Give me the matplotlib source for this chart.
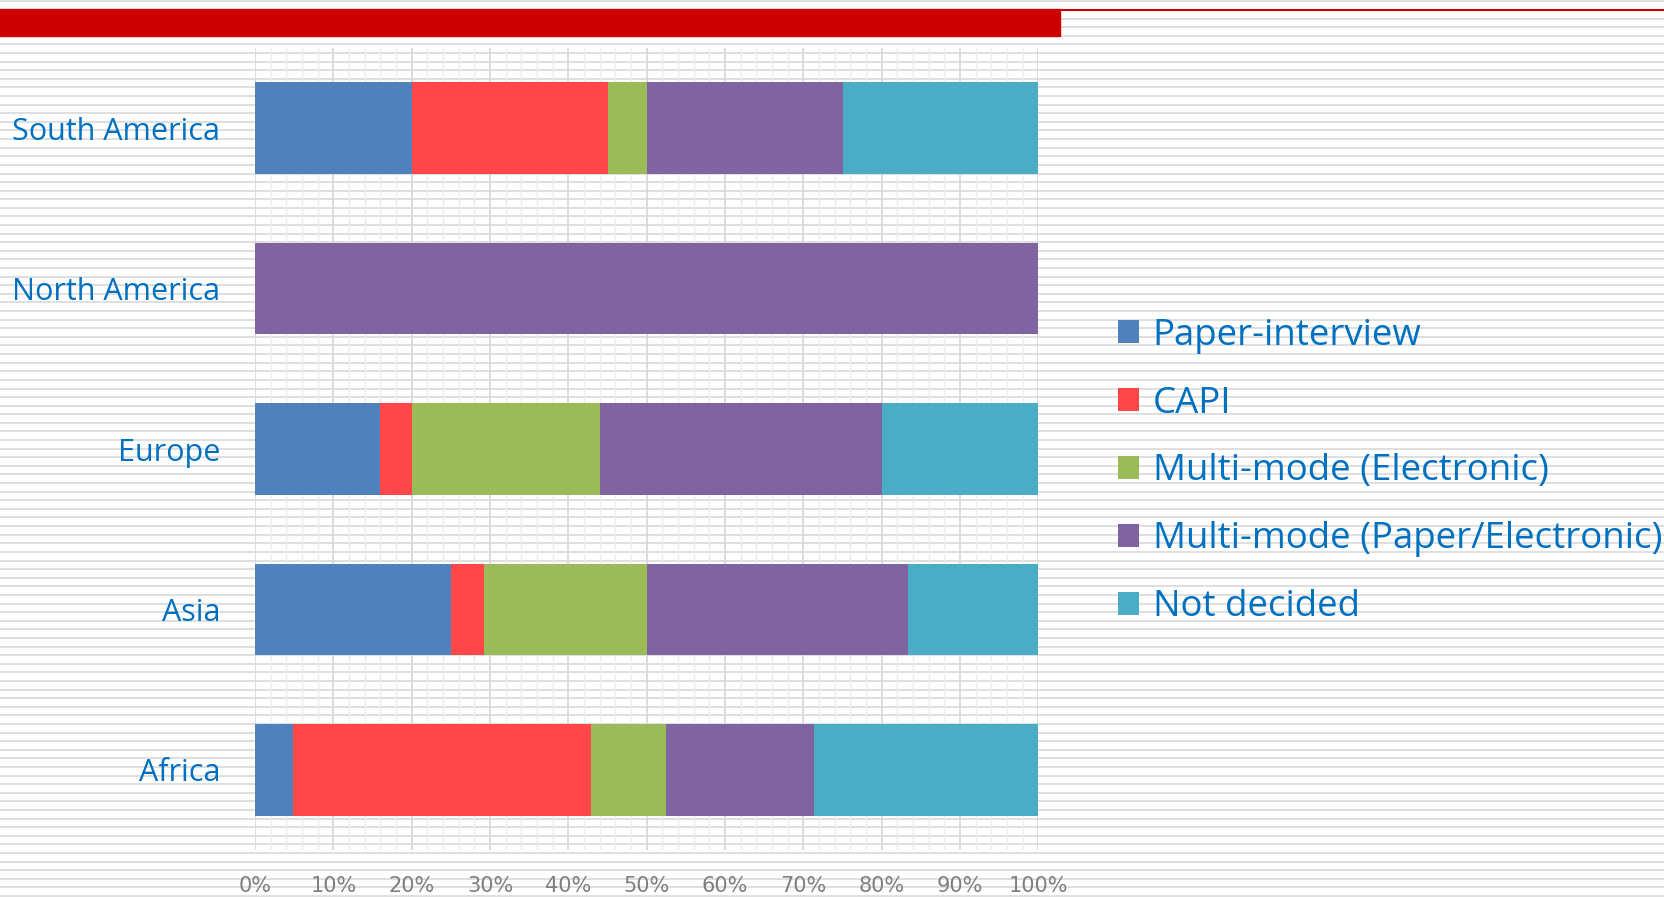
import matplotlib.pyplot as plt
from matplotlib.patches import Patch
from matplotlib.lines import Line2D
from matplotlib.ticker import MultipleLocator, PercentFormatter
import numpy as np

regions = ['Africa', 'Asia', 'Europe', 'North America', 'South America']
modes = ['Paper-interview', 'CAPI', 'Multi-mode (Electronic)',
         'Multi-mode (Paper/Electronic)', 'Not decided']
colors = ['#4F81BD', '#FF474A', '#9BBB59', '#8064A2', '#4BACC6']

# percent shares per region (bottom to top)
paper = [4.8, 25.0, 16.0, 0.0, 20.0]
capi = [38.1, 4.2, 4.0, 0.0, 25.0]
multi_e = [9.5, 20.8, 24.0, 0.0, 5.0]
multi_pe = [19.0, 33.3, 36.0, 100.0, 25.0]
not_decided = [28.6, 16.7, 20.0, 0.0, 25.0]
series = [paper, capi, multi_e, multi_pe, not_decided]

W, H = 1665, 897
fig = plt.figure(figsize=(W / 100, H / 100), dpi=100)
fig.patch.set_facecolor('white')

# striped slide background
for yy in np.arange(1.5, H, 8.6):
    fig.add_artist(Line2D([0, 1], [1 - yy / H, 1 - yy / H], color='#DCDCDC',
                          lw=1.3, zorder=0))

# red header bar and thin rule
fig.add_artist(plt.Rectangle((0, 1 - 36 / H), 1060 / W, 26.5 / H,
                             color='#CC0000', zorder=1))
fig.add_artist(Line2D([1060 / W, 1], [1 - 10 / H, 1 - 10 / H],
                      color='#CC0000', lw=1.5, zorder=1))

ax = fig.add_axes([255 / W, 1 - 850 / H, (1038.5 - 255) / W, 802 / H])
ax.patch.set_alpha(0)

y = np.arange(len(regions))
left = np.zeros(len(regions))
for vals, col, name in zip(series, colors, modes):
    ax.barh(y, vals, left=left, height=0.57, color=col, label=name, zorder=3)
    left += np.array(vals)

ax.set_xlim(0, 100)
ax.set_ylim(-0.5, len(regions) - 0.5)
ax.xaxis.set_major_locator(MultipleLocator(10))
ax.xaxis.set_minor_locator(MultipleLocator(2))
ax.xaxis.set_major_formatter(PercentFormatter(decimals=0))
ax.grid(axis='x', which='major', color='#D9D9D9', lw=1.3, zorder=1)
ax.grid(axis='x', which='minor', color='#EDEDED', lw=1.0, zorder=1)
for s in ax.spines.values():
    s.set_visible(False)

ax.set_yticks(y)
ax.set_yticklabels(regions, color='#0070C0', fontsize=22, family='Open Sans')
ax.tick_params(axis='y', length=0, pad=25)
ax.tick_params(axis='x', which='both', length=0, pad=19, colors='#7F7F7F',
               labelsize=15)
for t in ax.get_xticklabels():
    t.set_family(['Liberation Sans Narrow', 'DejaVu Sans'])

handles = [Patch(facecolor=c) for c in colors]
leg = fig.legend(handles, modes, loc='upper left',
                 bbox_to_anchor=(1103 / W, 1 - 303 / H), frameon=False,
                 prop={'family': 'Open Sans', 'size': 26.4},
                 handlelength=0.58, handleheight=0.58, handletextpad=0.38,
                 labelspacing=0.87, borderaxespad=0)
for t in leg.get_texts():
    t.set_color('#0070C0')

fig.savefig('out.png', dpi=100)
